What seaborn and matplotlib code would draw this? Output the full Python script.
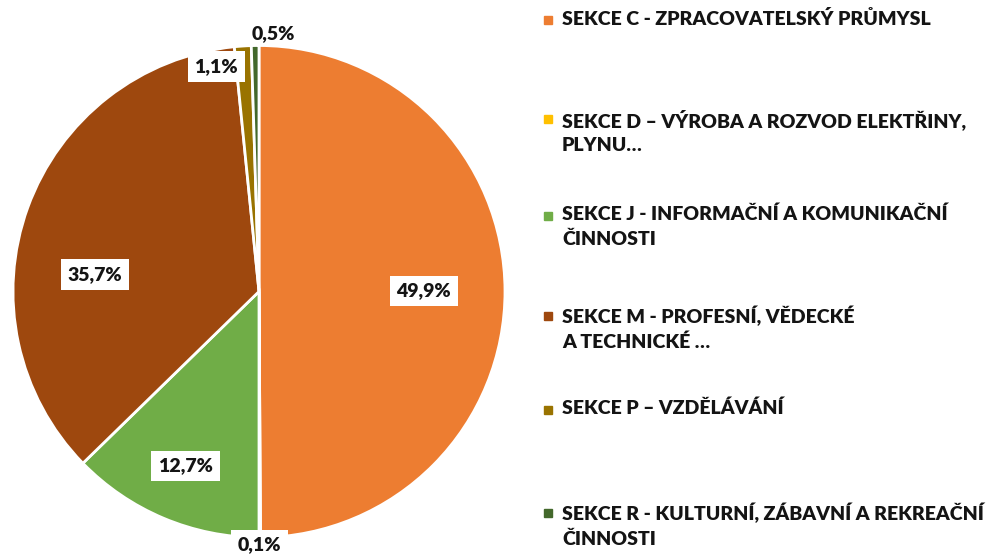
import numpy as np
import matplotlib
matplotlib.use("Agg")
import matplotlib.pyplot as plt
import seaborn as sns

# Shares of sections (percent)
sections = [
    "SEKCE C - ZPRACOVATELSKÝ PRŮMYSL",
    "SEKCE D – VÝROBA A ROZVOD ELEKTŘINY,\nPLYNU…",
    "SEKCE J - INFORMAČNÍ A KOMUNIKAČNÍ\nČINNOSTI",
    "SEKCE M - PROFESNÍ, VĚDECKÉ\nA TECHNICKÉ …",
    "SEKCE P – VZDĚLÁVÁNÍ",
    "SEKCE R - KULTURNÍ, ZÁBAVNÍ A REKREAČNÍ\nČINNOSTI",
]
shares = [49.9, 0.1, 12.7, 35.7, 1.1, 0.5]
share_labels = ["49,9%", "0,1%", "12,7%", "35,7%", "1,1%", "0,5%"]
colors = ["#ED7D31", "#FFC000", "#70AD47", "#9E480E", "#997300", "#43682B"]

sns.set_theme(style="white")
plt.rcParams["font.family"] = ["Lato", "DejaVu Sans"]

W, H = 991, 555
fig = plt.figure(figsize=(W / 100, H / 100), dpi=100)
cx, cy, rad = 259, 291.5, 246
ax = fig.add_axes([(cx - rad) / W, (H - cy - rad) / H, 2 * rad / W, 2 * rad / H])

wedges, _ = ax.pie(shares, colors=colors, startangle=90, counterclock=False,
                   radius=1.0, wedgeprops=dict(edgecolor="white", linewidth=2))
ax.set_xlim(-1, 1)
ax.set_ylim(-1, 1)
ax.set_aspect("equal")
ax.axis("off")

# label placement: radial distance and angular nudge (degrees) per slice
label_dist = [0.67, 1.03, 0.77, 0.67, 0.93, 1.05]
label_nudge = [0, 0, 0, 14, 7, -4]
label_box = [True, True, True, True, True, False]
for w, txt, d, dn, box in zip(wedges, share_labels, label_dist, label_nudge, label_box):
    mid = np.deg2rad((w.theta1 + w.theta2) / 2 + dn)
    kw = dict(ha="center", va="center", fontsize=14, fontweight="heavy",
              color="#141414", clip_on=False, zorder=5)
    if box:
        kw["bbox"] = dict(boxstyle="square,pad=0.35", fc="white", ec="none")
    ax.text(d * np.cos(mid), d * np.sin(mid), txt, **kw)

# legend
legend_y = [20, 119, 216, 316, 410, 513]
for lab, col, y in zip(sections, colors, legend_y):
    fig.patches.append(plt.Rectangle(((548 - 4) / W, 1 - (y + 4) / H), 8 / W, 8 / H,
                                     transform=fig.transFigure, color=col, figure=fig))
    fig.text(562 / W, 1 - (y - 10) / H, lab, ha="left", va="top", fontsize=14,
             fontweight="heavy", color="#141414", linespacing=1.5)

fig.savefig("out.png", dpi=100, facecolor="white")
